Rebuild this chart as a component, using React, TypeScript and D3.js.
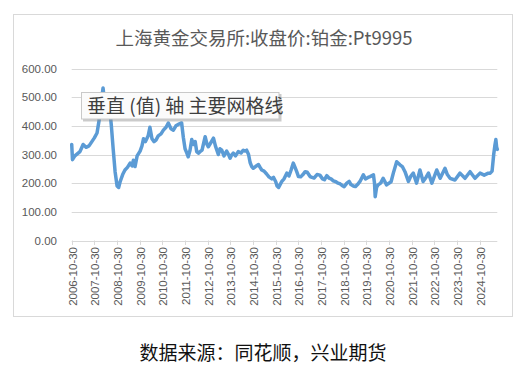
import { useEffect } from "react"
import * as d3 from "d3"

// 上海黄金交易所 Pt9995 收盘价 (元/克)
const dates = [
  "2006-10-30", "2006-11-12", "2006-12-20", "2007-03-12", "2007-05-02", "2007-06-18", "2007-08-05",
  "2007-09-20", "2007-10-30", "2007-12-12", "2008-01-15", "2008-02-15", "2008-03-18", "2008-04-18",
  "2008-06-05", "2008-07-08", "2008-07-30", "2008-08-28", "2008-09-28", "2008-10-30", "2008-11-24",
  "2008-12-18", "2009-01-28", "2009-03-06", "2009-04-15", "2009-05-28", "2009-06-30", "2009-07-20",
  "2009-08-15", "2009-09-18", "2009-11-05", "2009-12-05", "2009-12-30", "2010-01-30", "2010-03-15",
  "2010-04-12", "2010-05-15", "2010-06-18", "2010-07-18", "2010-08-24", "2010-10-08", "2010-11-15",
  "2010-12-28", "2011-02-02", "2011-03-18", "2011-04-25", "2011-06-05", "2011-07-12", "2011-09-05",
  "2011-10-02", "2011-10-30", "2011-11-28", "2011-12-20", "2012-01-18", "2012-02-15", "2012-03-15",
  "2012-04-10", "2012-05-05", "2012-06-02", "2012-06-28", "2012-07-30", "2012-08-30", "2012-09-18",
  "2012-10-18", "2012-11-08", "2012-12-15", "2013-01-30", "2013-03-02", "2013-04-18", "2013-05-15",
  "2013-06-12", "2013-07-18", "2013-08-30", "2013-09-30", "2013-10-25", "2013-11-18", "2013-12-15",
  "2014-01-20", "2014-03-05", "2014-04-18", "2014-05-25", "2014-06-20", "2014-07-18", "2014-08-18",
  "2014-09-12", "2014-10-08", "2014-11-02", "2014-12-08", "2015-01-25", "2015-02-20", "2015-03-18",
  "2015-04-25", "2015-06-05", "2015-07-12", "2015-08-28", "2015-09-25", "2015-10-30", "2015-11-20",
  "2015-12-15", "2016-01-08", "2016-02-05", "2016-03-12", "2016-04-25", "2016-05-30", "2016-07-02",
  "2016-08-08", "2016-09-05", "2016-10-02", "2016-10-30", "2016-12-05", "2017-01-10", "2017-02-15",
  "2017-03-20", "2017-05-05", "2017-06-05", "2017-07-08", "2017-08-25", "2017-10-10", "2017-11-22",
  "2017-12-22", "2018-01-30", "2018-03-05", "2018-04-08", "2018-05-15", "2018-06-25", "2018-07-30",
  "2018-08-30", "2018-10-02", "2018-11-05", "2018-12-18", "2019-01-25", "2019-02-22", "2019-04-02",
  "2019-05-05", "2019-06-08", "2019-07-18", "2019-09-10", "2019-10-15", "2019-11-25", "2019-12-28",
  "2020-02-20", "2020-03-08", "2020-03-19", "2020-04-10", "2020-05-05", "2020-06-15", "2020-07-25",
  "2020-09-18", "2020-11-30", "2021-01-05", "2021-02-28", "2021-04-22", "2021-05-30", "2021-07-12",
  "2021-09-05", "2021-10-15", "2021-11-22", "2022-01-15", "2022-03-10", "2022-04-30", "2022-06-15",
  "2022-07-25", "2022-09-18", "2022-12-05", "2023-01-30", "2023-04-18", "2023-05-25", "2023-07-08",
  "2023-09-25", "2023-12-15", "2024-03-05", "2024-05-25", "2024-08-12", "2024-11-02", "2025-01-08",
  "2025-03-15", "2025-04-15", "2025-05-15", "2025-06-10", "2025-06-28", "2025-07-15", "2025-07-28",
  "2025-08-07",
]

const prices = [
  335, 282, 295, 310, 335, 325, 330,
  345, 358, 375, 420, 480, 532, 470,
  480, 450, 400, 320, 240, 190, 185,
  205, 230, 246, 255, 270, 260, 280,
  258, 295, 312, 330, 355, 345, 365,
  395, 355, 345, 350, 365, 372, 385,
  395, 410, 390, 385, 400, 405, 410,
  360, 320, 305, 292, 315, 352, 335,
  345, 310, 305, 310, 315, 345, 362,
  335, 327, 340, 357, 330, 300, 320,
  315, 295, 312, 300, 287, 298, 305,
  295, 310, 305, 315, 312, 315, 300,
  272, 258, 252, 258, 265, 255, 246,
  242, 232, 222, 215, 220, 205, 190,
  185, 195, 206, 215, 235, 225, 245,
  270, 255, 240, 223, 222, 230, 240,
  238, 223, 220, 218, 230, 228, 215,
  212, 226, 218, 215, 208, 205, 200,
  198, 192, 188, 200, 206, 195, 190,
  188, 195, 206, 229, 215, 220, 223,
  229, 200, 153, 185, 194, 200, 217,
  194, 205, 235, 275, 264, 258, 240,
  206, 225, 235, 200, 246, 206, 220,
  235, 200, 246, 217, 252, 230, 217,
  211, 235, 217, 240, 217, 235, 228,
  235, 235, 242, 300, 330, 352, 325,
  318,
]

const tickLabels = [
  "2006-10-30", "2007-10-30", "2008-10-30", "2009-10-30", "2010-10-30", "2011-10-30", "2012-10-30",
  "2013-10-30", "2014-10-30", "2015-10-30", "2016-10-30", "2017-10-30", "2018-10-30", "2019-10-30",
  "2020-10-30", "2021-10-30", "2022-10-30", "2023-10-30", "2024-10-30",
]

const yTicks = [0, 100, 200, 300, 400, 500, 600]

const title = "上海黄金交易所:收盘价:铂金:Pt9995"
const source = "数据来源：同花顺，兴业期货"
const tooltipText = "垂直 (值) 轴 主要网格线"

const W = 528
const H = 375
const plot = { left: 71.7, right: 497.3, top: 68.5, bottom: 240.5 }
const grid = "#d9d9d9"
const labelColor = "#595959"
const numFont = "Arial, 'Liberation Sans', sans-serif"
const cjkFont = "'Noto Sans CJK SC', 'Noto Sans', sans-serif"

export default function App() {
  useEffect(() => {
    document.body.style.margin = "0"
  }, [])

  const parse = d3.timeParse("%Y-%m-%d")
  const data = dates.map((d, i) => ({ date: parse(d) as Date, value: prices[i] }))

  const x = d3
    .scaleTime()
    .domain([parse(dates[0]) as Date, parse(dates[dates.length - 1]) as Date])
    .range([plot.left, plot.right])

  const y = d3.scaleLinear().domain([0, 600]).range([plot.bottom, plot.top])

  const line = d3
    .line<{ date: Date; value: number }>()
    .x((d) => x(d.date))
    .y((d) => y(d.value))

  const fmt = d3.format(".2f")

  return (
    <svg width={W} height={H} style={{ display: "block", background: "#fff" }}>
      <rect x={13.5} y={14.5} width={499} height={302} fill="#fff" stroke={grid} />

      <text x={264} y={45} textAnchor="middle" fontFamily={cjkFont} fontSize={18.5} fill={labelColor}>
        {title}
      </text>

      {/* gridlines + y labels */}
      {yTicks.map((t) => (
        <g key={t}>
          <line x1={plot.left} x2={plot.right} y1={Math.round(y(t)) + 0.5} y2={Math.round(y(t)) + 0.5} stroke={grid} />
          <text
            x={57}
            y={y(t)}
            dy="0.35em"
            textAnchor="end"
            fontFamily={numFont}
            fontSize={11.5}
            fill={labelColor}
          >
            {fmt(t)}
          </text>
        </g>
      ))}

      {/* x ticks + rotated labels */}
      {tickLabels.map((t) => {
        const tx = Math.round(x(parse(t) as Date)) + 0.5
        return (
          <g key={t}>
            <line x1={tx} x2={tx} y1={plot.bottom} y2={plot.bottom + 4.5} stroke={grid} />
            <text
              transform={`translate(${tx},${plot.bottom + 6.5}) rotate(-90)`}
              dy="0.36em"
              textAnchor="end"
              fontFamily={numFont}
              fontSize={11.5}
              fill={labelColor}
            >
              {t}
            </text>
          </g>
        )
      })}

      <path
        d={line(data) ?? ""}
        fill="none"
        stroke="#5B9BD5"
        strokeWidth={3.5}
        strokeLinejoin="round"
        strokeLinecap="round"
      />

      {/* Excel hover tooltip left in the screenshot */}
      <rect x={83} y={94} width={198.5} height={27.5} fill="#8c8c8c" opacity={0.45} />
      <rect x={81.5} y={92.5} width={197.5} height={26.5} fill="#fbfbfb" stroke="#c9c9c9" />
      <text x={87} y={112.5} fontFamily={cjkFont} fontSize={19} fill="#3f3f3f">
        {tooltipText}
      </text>

      <text x={263} y={360} textAnchor="middle" fontFamily={cjkFont} fontSize={19} fill="#111">
        {source}
      </text>
    </svg>
  )
}
